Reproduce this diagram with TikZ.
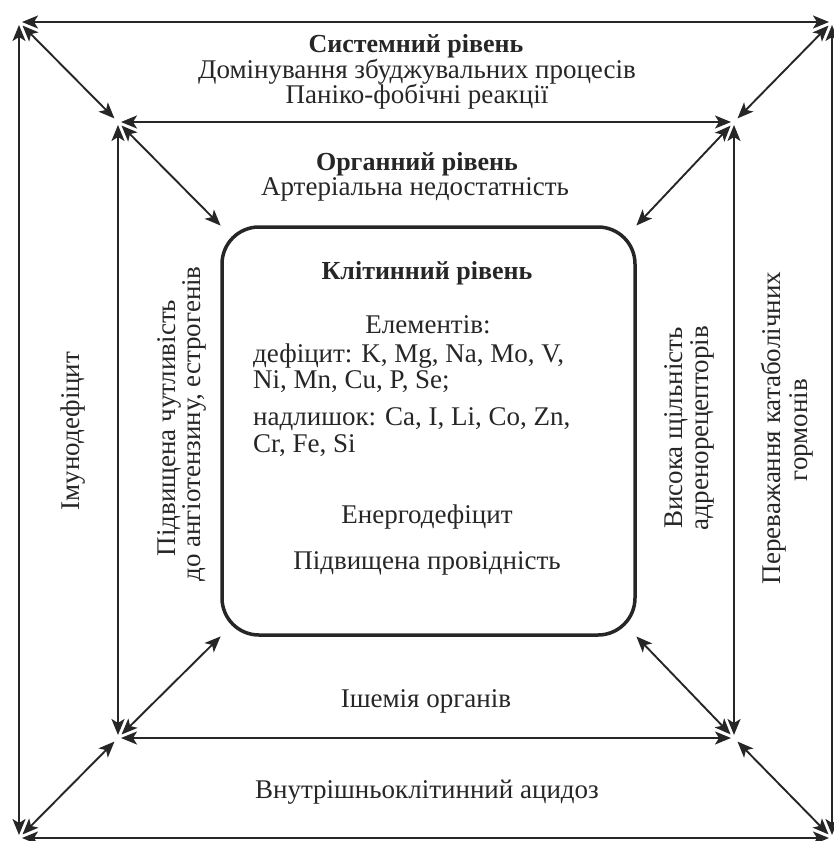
\documentclass[tikz,border=0pt]{standalone}
\usepackage{fontspec}
\setmainfont{Liberation Serif}
\usetikzlibrary{arrows.meta}
\definecolor{ink}{RGB}{38,38,38}
\begin{document}
\begin{tikzpicture}[x=1pt,y=-1pt,
  link/.style={draw=ink, line width=1.9pt,
    {Stealth[length=16pt,width=13pt,inset=4pt]}-{Stealth[length=16pt,width=13pt,inset=4pt]},
    shorten <=3pt, shorten >=3pt},
  diag/.style={link, shorten <=5pt, shorten >=5pt},
  lbl/.style={text=ink, font=\fontsize{27}{28}\selectfont, anchor=base, inner sep=0pt},
  lblb/.style={lbl, font=\fontsize{26}{28}\selectfont\bfseries},
  lbll/.style={lbl, anchor=base west},
  vlbl/.style={lbl, rotate=90},
  cellbox/.style={draw=ink, line width=3.5pt, rounded corners=37pt,
    minimum width=413pt, minimum height=408pt, inner sep=0pt, outer sep=0pt}]
\useasboundingbox (0,0) rectangle (834,841);

% corners of the outer and inner frames
\coordinate (oTL) at (19,22);
\coordinate (oTR) at (832,22);
\coordinate (oBL) at (19,838);
\coordinate (oBR) at (832,838);
\coordinate (iTL) at (118,122);
\coordinate (iTR) at (734,122);
\coordinate (iBL) at (118,738);
\coordinate (iBR) at (734,738);

% cell level box
\node[cellbox] (cell) at (428.5,431) {};

% outer frame
\draw[link] (oTL) -- (oTR);
\draw[link] (oBL) -- (oBR);
\draw[link] (oTL) -- (oBL);
\draw[link] (oTR) -- (oBR);
% inner frame
\draw[link] (iTL) -- (iTR);
\draw[link] (iBL) -- (iBR);
\draw[link] (iTL) -- (iBL);
\draw[link] (iTR) -- (iBR);
% diagonals between the frames
\draw[diag] (oTL) -- (iTL);
\draw[diag] (oTR) -- (iTR);
\draw[diag] (oBL) -- (iBL);
\draw[diag] (oBR) -- (iBR);
% diagonals to the cell box
\draw[diag, shorten >=2pt] (iTL) -- (cell.north west);
\draw[diag, shorten >=2pt] (iTR) -- (cell.north east);
\draw[diag, shorten >=2pt] (iBL) -- (cell.south west);
\draw[diag, shorten >=2pt] (iBR) -- (cell.south east);

% system level
\node[lblb] (sys) at (416,52) {Системний рівень};
\node[lbl] (sys1) at (417,78) {Домінування збуджувальних процесів};
\node[lbl] (sys2) at (417,103) {Паніко-фобічні реакції};
% organ level
\node[lblb] (org) at (417,170) {Органний рівень};
\node[lbl] (org1) at (415,195) {Артеріальна недостатність};
% cell level
\node[lblb] (cel) at (427,279) {Клітинний рівень};
\node[lbl] (el0) at (428,333) {Елементів:};
\node[lbll] (el1) at (253,362) {дефіцит: K, Mg, Na, Mo, V,};
\node[lbll] (el2) at (253,388) {Ni, Mn, Cu, P, Se;};
\node[lbll] (el3) at (253,425) {надлишок: Ca, I, Li, Co, Zn,};
\node[lbll] (el4) at (253,452) {Cr, Fe, Si};
\node[lbl] (en) at (427,523) {Енергодефіцит};
\node[lbl] (pr) at (427,569) {Підвищена провідність};
% bottom labels
\node[lbl] (ish) at (426,707) {Ішемія органів};
\node[lbl] (aci) at (427,798) {Внутрішньоклітинний ацидоз};
% side labels
\node[vlbl] (imu) at (79,431) {Імунодефіцит};
\node[vlbl] (ch1) at (175,428) {Підвищена чутливість};
\node[vlbl] (ch2) at (200,424) {до ангіотензину, естрогенів};
\node[vlbl] (vs1) at (682,428) {Висока щільність};
\node[vlbl] (vs2) at (708,428) {адренорецепторів};
\node[vlbl] (kt1) at (780,428) {Переважання катаболічних};
\node[vlbl] (kt2) at (807,430) {гормонів};
\end{tikzpicture}
\end{document}
